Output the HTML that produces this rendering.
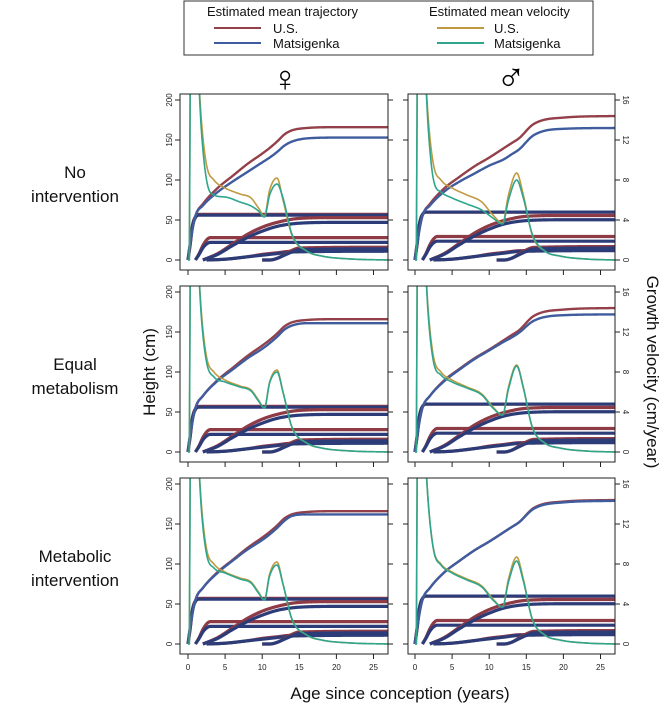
<!DOCTYPE html>
<html><head><meta charset="utf-8"><style>
body{margin:0;background:#fff;width:661px;height:710px;overflow:hidden;font-family:"Liberation Sans",sans-serif}
svg{display:block}
</style></head><body>
<svg id="chart" width="661" height="710" xmlns="http://www.w3.org/2000/svg" font-family="Liberation Sans, sans-serif">
<g>
<rect x="184" y="1" width="409" height="54" fill="#fff" stroke="#333" stroke-width="1"/>
<text x="207" y="16" font-size="13" fill="#111">Estimated mean trajectory</text>
<line x1="214" y1="28" x2="261" y2="28" stroke="#93404a" stroke-width="2"/>
<text x="273" y="33" font-size="13" fill="#111">U.S.</text>
<line x1="214" y1="43" x2="261" y2="43" stroke="#3e5c9e" stroke-width="2"/>
<text x="273" y="48" font-size="13" fill="#111">Matsigenka</text>
<text x="429" y="16" font-size="13" fill="#111">Estimated mean velocity</text>
<line x1="437" y1="28" x2="484" y2="28" stroke="#c09a42" stroke-width="2"/>
<text x="494" y="33" font-size="13" fill="#111">U.S.</text>
<line x1="437" y1="43" x2="484" y2="43" stroke="#2ea58c" stroke-width="2"/>
<text x="494" y="48" font-size="13" fill="#111">Matsigenka</text>
</g>
<text x="285" y="91" font-size="36" text-anchor="middle">♀</text>
<text x="511" y="91" font-size="40" text-anchor="middle">♂</text>
<g font-size="17" text-anchor="middle" fill="#111">
<text x="75" y="178"><tspan x="75">No</tspan><tspan x="75" dy="24">intervention</tspan></text>
<text x="75" y="370"><tspan x="75">Equal</tspan><tspan x="75" dy="24">metabolism</tspan></text>
<text x="75" y="562"><tspan x="75">Metabolic</tspan><tspan x="75" dy="24">intervention</tspan></text>
<text transform="translate(155,372) rotate(-90)">Height (cm)</text>
<text transform="translate(647,372) rotate(90)">Growth velocity (cm/year)</text>
<text x="400" y="699">Age since conception (years)</text>
</g>
<g id="panels"></g>
</svg>
<script>
const H_AGES=[0,0.4,1,2,4,6,8,10,11,12,13,14,16,20,27];
const HM_AGES=[0,0.4,1,2,4,6,8,10,12,13,14,16,20,27];
const US_H_F=[0,27,55,70,90,105,120,133,140,148,157,162,165,166,166];
const US_H_M=[0,27,55,70,90,104,117,128,140,146,152,170,178,180];
const MAT_H_F1=[0,27,55,68,85,98,110,122,128,135,143,148,152,153,153];
const MAT_H_M1=[0,27,55,68,86,98,108,118,126,132,138,156,164,165];
const MAT_H_F2=[0,27,55,70,89,103,117,129,136,144,153,158,161,161,161];
const MAT_H_M2=[0,27,55,70,89,103,116,127,138,143,149,164,171,172];
const MAT_H_F3=[0,27,55,70,89,104,118,130,137,145,154,160,162,162,162];
const MAT_H_M3=[0,27,55,70,90,104,117,128,140,146,152,169,177,179];
const VF_AGES=[0,0.2,0.35,1.3,1.8,2.5,3.5,5,7,8.5,9.5,10.3,11,12,12.8,14,16,18,22,27];
const VM_AGES=[0,0.2,0.35,1.3,1.8,2.5,3.5,5,7,9,10.5,11.8,12.6,13.7,14.6,15.8,17.5,19.5,23,27];
const US_V_F=[0,0,30,20,14,9.5,8,7.2,6.6,6.2,5.2,4.4,7,8.2,6,2.5,0.9,0.4,0.1,0];
const US_V_M=[0,0,30,20,14,9.5,8,7.2,6.5,5.8,4.5,3.7,6.5,8.7,6.5,2.5,0.9,0.4,0.1,0];
const MAT_V_F1=[0,0,30,20,13,8,6.5,6.3,5.8,5.4,4.9,4.3,6.5,7.6,6.2,2.6,0.9,0.4,0.1,0];
const MAT_V_M1=[0,0,30,20,13,8,6.8,6.2,5.6,5,4.2,3.6,6,8,6.2,2.6,0.9,0.4,0.1,0];
const MAT_V_F2=[0,0,30,20,13.5,9,7.5,7,6.5,6.1,5.1,4.4,6.9,8,6,2.5,0.9,0.4,0.1,0];
const MAT_V_M2=[0,0,30,20,13.5,9,7.7,7,6.4,5.7,4.4,3.7,6.3,8.6,6.4,2.5,0.9,0.4,0.1,0];
const MAT_V_F3=[0,0,30,20,13.5,9,7.6,7.1,6.5,6.1,5.1,4.4,6.8,7.9,6,2.5,0.9,0.4,0.1,0];
const MAT_V_M3=[0,0,30,20,14,9.4,7.9,7.1,6.4,5.7,4.4,3.7,6.2,8.3,6.3,2.5,0.9,0.4,0.1,0];
const C1_AGES=[0,0.3,0.6,1,1.5,27];
const C1_US=[0,20,43,54,57,57];
const C1_MAT=[0,20,42,53,56,56];
const C2_AGES=[1,1.5,2,2.5,3,27];
const C2_US=[0,8,18,25,28,28];
const C2_MAT=[0,7,15,20,22,22];
const C3_AGES=[2,4,6,8,10,12,15,20,27];
const C3_US=[0,8,20,32,41,47,52,53,53];
const C3_MAT=[0,7,18,28,36,42,46,47,47];
const C4_AGES=[2.5,5,8,10,12,14,27];
const C4_US=[0,1,4,7,9,11,12];
const C4_MAT=[0,1,4,6,8,10,11];
const C5F_AGES=[10,11,12,13,14,15,27];
const C5M_AGES=[11,12,13,14,15,16,27];
const C5_US=[0,0,2,7,12,15,16];
const C5_MAT=[0,0,2,6,10,13,14];
const X_TICKS=[0,5,10,15,20,25];
const Y_TICKS=[0,50,100,150,200];
const V_TICKS=[0,4,8,12,16];
const ROW_MAT_H=[[MAT_H_F1,MAT_H_M1],[MAT_H_F2,MAT_H_M2],[MAT_H_F3,MAT_H_M3]];
const ROW_MAT_V=[[MAT_V_F1,MAT_V_M1],[MAT_V_F2,MAT_V_M2],[MAT_V_F3,MAT_V_M3]];

const NS="http://www.w3.org/2000/svg";
function mk(tag,attrs,parent){const e=document.createElementNS(NS,tag);for(const k in attrs)e.setAttribute(k,attrs[k]);parent.appendChild(e);return e;}
function mono(xs,ys){const n=xs.length,d=[],m=[];for(let i=0;i<n-1;i++)d.push((ys[i+1]-ys[i])/(xs[i+1]-xs[i]));
 m[0]=d[0];m[n-1]=d[n-2];for(let i=1;i<n-1;i++){m[i]=(d[i-1]*d[i]<=0)?0:(d[i-1]+d[i])/2;}
 for(let i=0;i<n-1;i++){if(d[i]===0){m[i]=0;m[i+1]=0;continue;}const a=m[i]/d[i],b=m[i+1]/d[i];const s=a*a+b*b;if(s>9){const t=3/Math.sqrt(s);m[i]=t*a*d[i];m[i+1]=t*b*d[i];}}
 return function(x){let i=0;while(i<n-2&&x>xs[i+1])i++;const h=xs[i+1]-xs[i],t=(x-xs[i])/h;const t2=t*t,t3=t2*t;
 return (2*t3-3*t2+1)*ys[i]+(t3-2*t2+t)*h*m[i]+(-2*t3+3*t2)*ys[i+1]+(t3-t2)*h*m[i+1];};}
function pathD(xs,ys,sx,sy,k){const f=mono(xs,ys);let d="";const a=xs[0],b=Math.min(xs[xs.length-1],27);const N=300;
 for(let i=0;i<=N;i++){const x=a+(b-a)*i/N;d+=(i?"L":"M")+sx(x).toFixed(2)+","+sy(f(x)*k).toFixed(2);}return d;}

const panels=document.getElementById('panels');
const COLS=[{x0:180,x1:388,zero:188},{x0:408,x1:615,zero:415}];
const rowNames=["no-intervention","equal-metabolism","metabolic-intervention"];
for(let r=0;r<3;r++){for(let c=0;c<2;c++){
 const top=94+r*192,bot=top+176,col=COLS[c];
 const sx=a=>col.zero+a*7.42, sy=v=>bot-10-v*0.8;
 const g=mk('g',{},panels);
 
 
 const cid='clip'+r+c;
 const cp=mk('clipPath',{id:cid},g);mk('rect',{x:col.x0,y:top,width:col.x1-col.x0,height:bot-top},cp);
 const pg=mk('g',{'clip-path':'url(#'+cid+')',fill:'none','stroke-linejoin':'round'},g);
 const male=c===1;
 const comps=[[C1_AGES,C1_US,C1_MAT],[C2_AGES,C2_US,C2_MAT],[C3_AGES,C3_US,C3_MAT],[C4_AGES,C4_US,C4_MAT],[male?C5M_AGES:C5F_AGES,C5_US,C5_MAT]];
 comps.forEach((cc,i)=>{
  const p1=mk('path',{d:pathD(cc[0],cc[1].map(v=>v*(male?1.05:1)),sx,sy,1),stroke:'#8e3b46','stroke-width':3.2},pg);
  
  
  const p2=mk('path',{d:pathD(cc[0],cc[2].map(v=>v*(male?1.07:1)),sx,sy,1),stroke:'#2c3c78','stroke-width':3.2},pg);
  
  
 });
 const ha=male?HM_AGES:H_AGES;
 const h1=mk('path',{d:pathD(ha,male?US_H_M:US_H_F,sx,sy,1),stroke:'#93404a','stroke-width':2.4},pg);
 
 
 const h2=mk('path',{d:pathD(ha,ROW_MAT_H[r][c],sx,sy,1),stroke:'#3e5c9e','stroke-width':2.4},pg);
 
 
 const va=male?VM_AGES:VF_AGES;
 const v1=mk('path',{d:pathD(va,male?US_V_M:US_V_F,sx,sy,12.5),stroke:'#c09a42','stroke-width':1.6},pg);
 
 
 const v2=mk('path',{d:pathD(va,ROW_MAT_V[r][c],sx,sy,12.5),stroke:'#2ea58c','stroke-width':1.6},pg);
 
 
 const fr=mk('rect',{x:col.x0,y:top,width:col.x1-col.x0,height:bot-top,fill:'none',stroke:'#222','stroke-width':1},g);
 
 
 X_TICKS.forEach(t=>{mk('line',{x1:sx(t),x2:sx(t),y1:bot,y2:bot+5,stroke:'#222'},g);
  if(r===2){const tx=mk('text',{x:sx(t),y:bot+16,'font-size':8,'text-anchor':'middle',fill:'#222'},g);tx.textContent=t;
   
   }});
 Y_TICKS.forEach(t=>{const y=sy(t);mk('line',{x1:col.x0-5,x2:col.x0,y1:y,y2:y,stroke:'#222'},g);
  if(c===0){const tx=mk('text',{transform:`translate(${col.x0-8},${y}) rotate(-90)`,'font-size':8,'text-anchor':'middle',fill:'#222'},g);tx.textContent=t;
   
   }});
 V_TICKS.forEach(t=>{const y=sy(t*12.5);mk('line',{x1:col.x1,x2:col.x1+5,y1:y,y2:y,stroke:'#222'},g);
  if(c===1){const tx=mk('text',{transform:`translate(${col.x1+8},${y}) rotate(90)`,'font-size':8,'text-anchor':'middle',fill:'#222'},g);tx.textContent=t;
   
   }});
}}
</script>
</body></html>
